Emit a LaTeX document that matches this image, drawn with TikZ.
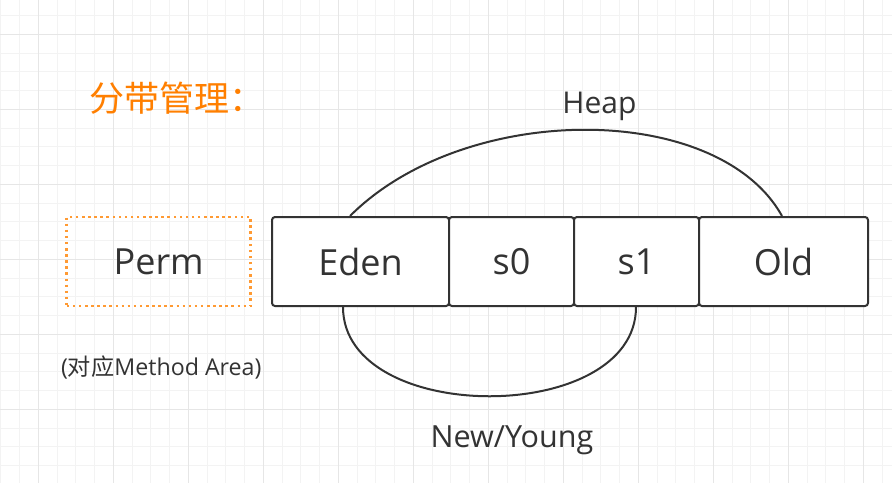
\documentclass[tikz,border=0pt]{standalone}
\usepackage{fontspec}
\setmainfont{Open Sans}
\newfontfamily\cjk{Noto Sans CJK SC}
\definecolor{ink}{HTML}{333333}
\definecolor{orangetxt}{HTML}{FF7F00}
\definecolor{orangeline}{HTML}{FF9A33}
\definecolor{gridminor}{HTML}{F3F3F3}
\definecolor{gridmajor}{HTML}{E6E6E6}
\tikzset{
  membox/.style={draw=ink, line width=2pt, rounded corners=3pt, fill=white,
    minimum height=89pt, inner sep=0pt, text=ink, font=\fontsize{36}{40}\selectfont},
  permbox/.style={draw=orangeline, line width=2.5pt, dash pattern=on 2.5pt off 3.6pt,
    minimum width=184pt, minimum height=89pt, inner sep=0pt, text=ink,
    font=\fontsize{36}{40}\selectfont},
  label/.style={text=ink, inner sep=0pt},
  conn/.style={draw=ink, line width=2pt}
}
\begin{document}
\begin{tikzpicture}[x=1pt,y=-1pt]
\useasboundingbox (0,0) rectangle (892,483);
\fill[white] (0,0) rectangle (892,483);
% grid
\foreach \i in {0,...,47} {
  \draw[gridminor, line width=1pt] ({0.83+18.75*\i},0) -- ({0.83+18.75*\i},483);
}
\foreach \i in {0,...,25} {
  \draw[gridminor, line width=1pt] (0,{15.55+18.75*\i}) -- (892,{15.55+18.75*\i});
}
\foreach \i in {0,...,11} {
  \draw[gridmajor, line width=1.2pt] ({38.33+75*\i},0) -- ({38.33+75*\i},483);
}
\foreach \i in {0,...,6} {
  \draw[gridmajor, line width=1.2pt] (0,{34.3+75*\i}) -- (892,{34.3+75*\i});
}
% title
\node[text=orangetxt, inner sep=0pt, font=\cjk\fontsize{35}{40}\selectfont] (title) at (177,98) {分带管理：};
% perm
\node[permbox] (perm) at (158.7,261.5) {Perm};
\node[label, font=\fontsize{23.2}{26}\selectfont] (permnote) at (161.3,367.5) {({\cjk 对应}Method Area)};
% heap regions
\node[membox, minimum width=177pt] (eden) at (360.5,261.5) {Eden};
\node[membox, minimum width=125pt] (s0) at (511.5,261.5) {s0};
\node[membox, minimum width=125pt] (s1) at (636.5,261.5) {s1};
\node[membox, minimum width=169pt] (old) at (783.5,261.5) {Old};
% arcs
\coordinate (h1) at ([xshift=79pt]eden.north west);
\coordinate (h2) at ([xshift=84pt]old.north west);
\coordinate (n1) at ([xshift=72pt]eden.south west);
\coordinate (n2) at ([xshift=63pt]s1.south west);
\draw[conn] (h1) .. controls ([shift={(115,-115)}]h1) and ([shift={(-64,-115)}]h2) .. (h2);
\draw[conn] (n1) .. controls ([shift={(0,119)}]n1) and ([shift={(0,119)}]n2) .. (n2);
% labels
\node[label, font=\fontsize{30}{34}\selectfont] (heap) at (599.5,106) {Heap};
\node[label, font=\fontsize{30.5}{34}\selectfont] (young) at (512,440) {New/Young};
\end{tikzpicture}
\end{document}
